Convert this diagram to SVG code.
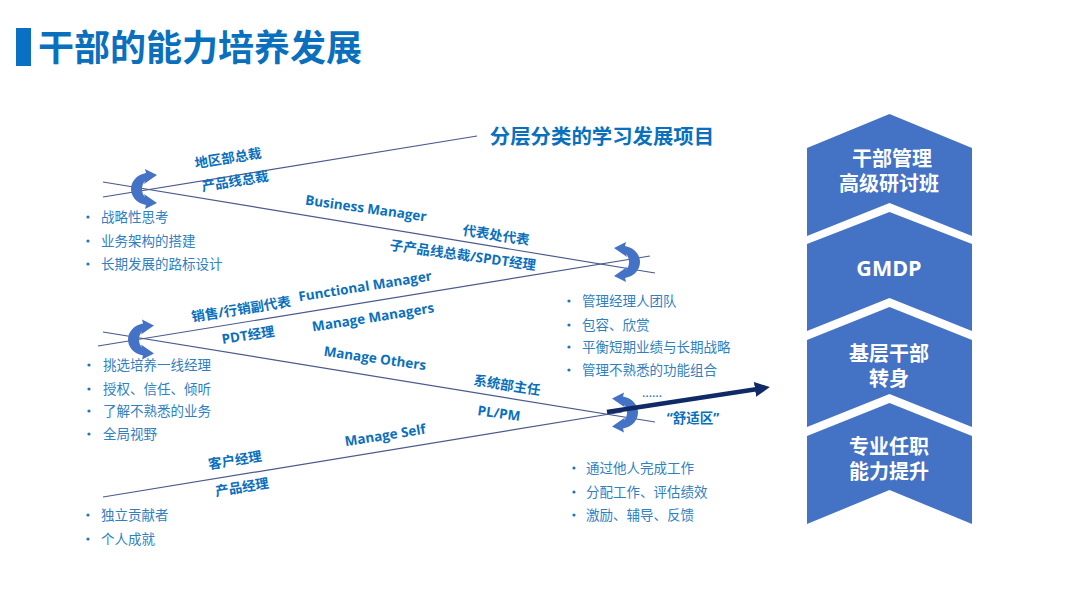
<svg xmlns="http://www.w3.org/2000/svg" width="1080" height="608" viewBox="0 0 1080 608">
<style>
text{font-family:"Open Sans","Noto Sans CJK SC",sans-serif}
.lab{font-size:13.5px;font-weight:700;fill:#0a70bd;text-anchor:middle;dominant-baseline:central}
.li{font-size:13.5px;fill:#2f7fc1;dominant-baseline:central}
.dot{fill:#1f77b8}
.line{stroke:#4a5a8c;stroke-width:1.2;fill:none}
.chev{fill:#4472c4}
.ct{font-size:20px;font-weight:700;fill:#fff;text-anchor:middle;dominant-baseline:central}
.cur{fill:#4472c4}
</style>
<defs>
<path id="c" d="M26,-14 L14,-20 L15,-16 C5,-14 0,-7 0,0 C0,7 5,14 15,16 L14,20 L26,14 L13,5 L14,8 C12,6 11,3 11,0 C11,-3 12,-6 14,-8 L13,-5 Z"/>
<marker id="ah" markerUnits="userSpaceOnUse" markerWidth="16" markerHeight="16" refX="1" refY="7.500" orient="auto"><path d="M0,0 L15,7.500 L0,15 Z" fill="#0f2a66"/></marker>
</defs>
<rect width="1080" height="608" fill="#fff"/>
<g id="title">
<rect x="16" y="28" width="15" height="38" fill="#0a70c4"/>
<text x="38" y="47" font-size="36" font-weight="700" fill="#0a70bd" dominant-baseline="central">干部的能力培养发展</text>
</g>
<text id="heading" x="602" y="136" font-size="20.400" font-weight="700" fill="#0a70bd" text-anchor="middle" dominant-baseline="central">分层分类的学习发展项目</text>
<g id="connectors">
<line class="line" x1="103" y1="197" x2="477" y2="136"/>
<line class="line" x1="103" y1="182" x2="655" y2="273"/>
<line class="line" x1="98" y1="346" x2="650" y2="256"/>
<line class="line" x1="103" y1="332" x2="655" y2="422"/>
<line class="line" x1="103" y1="497" x2="622" y2="412"/>
</g>
<g id="loop1"><use href="#c" class="cur" transform="translate(131,189)"/></g>
<g id="loop2"><use href="#c" class="cur" transform="translate(640,262) scale(-1,1)"/></g>
<g id="loop3"><use href="#c" class="cur" transform="translate(128,339.500)"/></g>
<g id="loop4"><use href="#c" class="cur" transform="translate(638,412.500) scale(-1,1)"/></g>
<line id="comfort-arrow" x1="607" y1="412" x2="756" y2="389.200" stroke="#0f2a66" stroke-width="4.500" marker-end="url(#ah)"/>
<g id="labels">
<text class="lab" transform="translate(228,158) rotate(-9)">地区部总裁</text>
<text class="lab" transform="translate(235,181) rotate(-9)">产品线总裁</text>
<text class="lab" transform="translate(366,208) rotate(8)">Business Manager</text>
<text class="lab" transform="translate(496,235) rotate(9)">代表处代表</text>
<text class="lab" transform="translate(463,255) rotate(8)">子产品线总裁/SPDT经理</text>
<text class="lab" transform="translate(241,309) rotate(-9)">销售/行销副代表</text>
<text class="lab" transform="translate(365,286) rotate(-9)">Functional Manager</text>
<text class="lab" transform="translate(248,335) rotate(-9)">PDT经理</text>
<text class="lab" transform="translate(373,317) rotate(-9)">Manage Managers</text>
<text class="lab" transform="translate(375,358) rotate(8)">Manage Others</text>
<text class="lab" transform="translate(507,385) rotate(9)">系统部主任</text>
<text class="lab" transform="translate(499,413) rotate(8)">PL/PM</text>
<text class="lab" transform="translate(385,435) rotate(-9)">Manage Self</text>
<text class="lab" transform="translate(235,460) rotate(-9)">客户经理</text>
<text class="lab" transform="translate(242,487) rotate(-9)">产品经理</text>
<text class="lab" x="652" y="392" style="font-weight:400;font-size:13px">……</text>
<text class="lab" x="693" y="418">“舒适区”</text>
</g>
<g id="list1">
<circle class="dot" cx="88" cy="217" r="1.600"/><text class="li" x="101" y="217">战略性思考</text>
<circle class="dot" cx="88" cy="241" r="1.600"/><text class="li" x="101" y="241">业务架构的搭建</text>
<circle class="dot" cx="88" cy="264" r="1.600"/><text class="li" x="101" y="264">长期发展的路标设计</text>
</g>
<g id="list2">
<circle class="dot" cx="569" cy="301" r="1.600"/><text class="li" x="582" y="301">管理经理人团队</text>
<circle class="dot" cx="569" cy="325" r="1.600"/><text class="li" x="582" y="325">包容、欣赏</text>
<circle class="dot" cx="569" cy="347" r="1.600"/><text class="li" x="582" y="347">平衡短期业绩与长期战略</text>
<circle class="dot" cx="569" cy="370" r="1.600"/><text class="li" x="582" y="370">管理不熟悉的功能组合</text>
</g>
<g id="list3">
<circle class="dot" cx="89" cy="365" r="1.600"/><text class="li" x="103" y="365">挑选培养一线经理</text>
<circle class="dot" cx="89" cy="389" r="1.600"/><text class="li" x="103" y="389">授权、信任、倾听</text>
<circle class="dot" cx="89" cy="411" r="1.600"/><text class="li" x="103" y="411">了解不熟悉的业务</text>
<circle class="dot" cx="89" cy="434" r="1.600"/><text class="li" x="103" y="434">全局视野</text>
</g>
<g id="list4">
<circle class="dot" cx="574" cy="468" r="1.600"/><text class="li" x="586" y="468">通过他人完成工作</text>
<circle class="dot" cx="574" cy="492" r="1.600"/><text class="li" x="586" y="492">分配工作、评估绩效</text>
<circle class="dot" cx="574" cy="515" r="1.600"/><text class="li" x="586" y="515">激励、辅导、反馈</text>
</g>
<g id="list5">
<circle class="dot" cx="88" cy="515" r="1.600"/><text class="li" x="101" y="515">独立贡献者</text>
<circle class="dot" cx="88" cy="539" r="1.600"/><text class="li" x="101" y="539">个人成就</text>
</g>
<g id="stage1">
<path class="chev" d="M889.500,114 L972,148 V236 L889.500,203 L807,236 V148 Z"/>
<text class="ct" x="892" y="158.500">干部管理</text><text class="ct" x="889" y="183.500">高级研讨班</text>
</g>
<g id="stage2">
<path class="chev" d="M889.500,212 L972,244 V331 L889.500,298 L807,331 V244 Z"/>
<text class="ct" x="889" y="267" style="font-size:21.500px">GMDP</text>
</g>
<g id="stage3">
<path class="chev" d="M889.500,307 L972,340 V427 L889.500,394 L807,427 V340 Z"/>
<text class="ct" x="889" y="353">基层干部</text><text class="ct" x="889" y="378">转身</text>
</g>
<g id="stage4">
<path class="chev" d="M889.500,403 L972,436 V524 L889.500,490 L807,524 V436 Z"/>
<text class="ct" x="889" y="446">专业任职</text><text class="ct" x="889" y="471">能力提升</text>
</g>
</svg>
